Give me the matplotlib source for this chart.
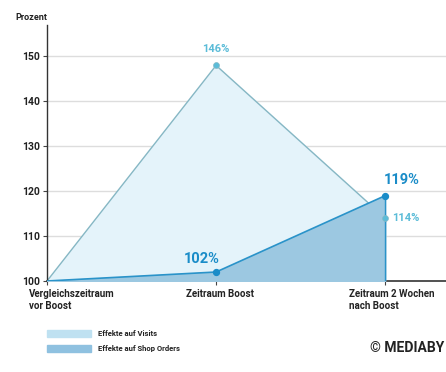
import matplotlib
matplotlib.use("Agg")
import matplotlib.pyplot as plt
from matplotlib.patches import Rectangle

plt.rcParams['font.family'] = ['Roboto', 'DejaVu Sans']

categories = ["Vergleichszeitraum\nvor Boost", "Zeitraum Boost", "Zeitraum 2 Wochen\nnach Boost"]
visits = [100, 148, 114]
visits_labels = ["", "146%", "114%"]
orders = [100, 102, 119]
orders_labels = ["", "102%", "119%"]
yticks = [100, 110, 120, 130, 140, 150]
legend_labels = ["Effekte auf Visits", "Effekte auf Shop Orders"]

c_vis_fill = "#e4f3fa"
c_vis_line = "#86b7c4"
c_ord_fill = "#9cc8e1"
c_ord_line = "#2a93c9"
c_vis_txt = "#5bbcd8"
c_ord_txt = "#1a8cc8"

fig = plt.figure(figsize=(4.46, 3.72), dpi=100)
ax = fig.add_axes([47/446, (372-281)/372, 1 - 47/446, (281-25)/372])

x = list(range(len(categories)))
ax.fill_between(x, 100, visits, color=c_vis_fill, zorder=1)
ax.plot(x, visits, color=c_vis_line, lw=1.0, zorder=2)
ax.plot([x[-1], x[-1]], [100, visits[-1]], color=c_vis_line, lw=1.0, zorder=2)
ax.fill_between(x, 100, orders, color=c_ord_fill, zorder=3)
ax.plot(x, orders, color=c_ord_line, lw=1.2, zorder=4)
ax.plot([x[-1], x[-1]], [100, orders[-1]], color=c_ord_line, lw=1.0, zorder=4)

ax.scatter(x[1:], visits[1:], s=18, color=c_vis_txt, zorder=5, edgecolor=c_vis_line, linewidth=0.5)
ax.scatter(x[1:], orders[1:], s=18, color=c_ord_txt, zorder=6)

ax.annotate(visits_labels[1], (x[1], visits[1]), xytext=(0, 8), textcoords='offset points',
            ha='center', va='bottom', color=c_vis_txt, fontsize=8, fontweight='bold')
ax.annotate(visits_labels[2], (x[2], visits[2]), xytext=(5, 0), textcoords='offset points',
            ha='left', va='center', color=c_vis_txt, fontsize=8, fontweight='bold')
ax.annotate(orders_labels[1], (x[1], orders[1]), xytext=(-10, 4), textcoords='offset points',
            ha='center', va='bottom', color=c_ord_txt, fontsize=10.5, fontweight='bold')
ax.annotate(orders_labels[2], (x[2], orders[2]), xytext=(12, 6), textcoords='offset points',
            ha='center', va='bottom', color=c_ord_txt, fontsize=10.5, fontweight='bold')

ax.set_xlim(0, 2.36)
ax.set_ylim(100, 157)
ax.set_yticks(yticks)
ax.set_yticklabels([str(t) for t in yticks], fontsize=7.5, fontweight='bold', color='#222222')
for t in yticks[1:]:
    ax.axhline(t, color='#dddddd', lw=1.0, zorder=0)
ax.set_xticks(x)
ax.set_xticklabels([""] * len(x))
ax.tick_params(axis='y', length=3, width=0.8, color='#444444', pad=2)
ax.tick_params(axis='x', length=3, width=0.8, color='#444444')

for s in ['top', 'right']:
    ax.spines[s].set_visible(False)
ax.spines['left'].set_color('#333333')
ax.spines['left'].set_linewidth(1.0)
ax.spines['bottom'].set_color('#333333')
ax.spines['bottom'].set_linewidth(1.2)

offsets = [-18, -30, -36]
for xi, lab, off in zip(x, categories, offsets):
    ax.annotate(lab, (xi, 100), xytext=(off, -8), textcoords='offset pixels',
                ha='left', va='top', fontsize=7, fontweight='bold', color='#222222',
                linespacing=1.25, annotation_clip=False)

fig.text(15/446, 1 - 18/372, "Prozent", fontsize=6.5, fontweight='bold', color='#222222',
         ha='left', va='center')

# legend
for i, (lab, col) in enumerate(zip(legend_labels, ["#bfe1f1", "#8fc1e0"])):
    yc = 1 - (334 + i * 15) / 372
    fig.patches.append(Rectangle((47/446, yc - 3/372), 44/446, 7/372, transform=fig.transFigure,
                                 color=col, figure=fig))
    fig.text(98/446, yc, lab, fontsize=5.5, fontweight='bold', color='#222222', ha='left', va='center')

fig.text(444/446, 1 - 348/372, "© MEDIABY", fontsize=10, fontweight='bold', color='#222222',
         ha='right', va='center', family=['Liberation Sans Narrow', 'Roboto', 'DejaVu Sans'])

fig.savefig("out.png", dpi=100)
